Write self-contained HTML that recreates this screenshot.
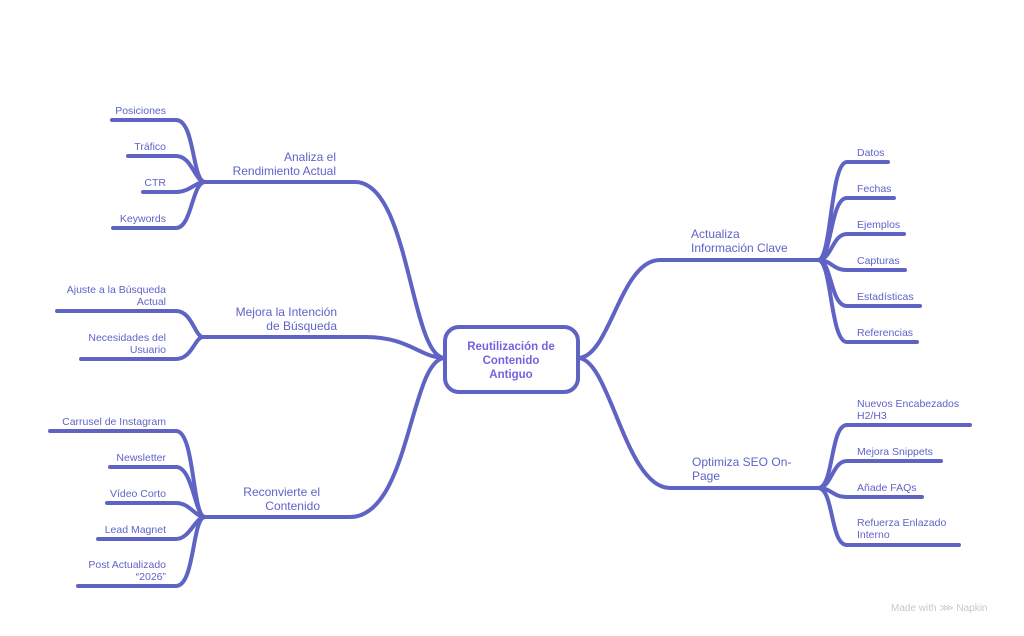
<!DOCTYPE html>
<html><head><meta charset="utf-8"><style>
html,body{margin:0;padding:0;background:#fff;}
svg{display:block;}
text{font-family:"Liberation Sans",sans-serif;font-size:10.5px;fill:#5f63c8;}
.b{font-size:12px;}
.c{font-size:11.5px;font-weight:bold;fill:#7a5fe0;}
</style></head><body>
<svg width="1024" height="636" viewBox="0 0 1024 636" xmlns="http://www.w3.org/2000/svg">
<g fill="none" stroke="#5f63c4" stroke-width="4" stroke-linecap="round">
<path d="M205,182 L355,182 C410,182 410,358 445,358"/>
<path d="M203,337 L365,337 C410,337 420,358 445,358"/>
<path d="M205,517 L350,517 C410,517 410,358 445,358"/>
<path d="M578,358 C610,358 620,260 660,260 L818,260"/>
<path d="M578,358 C610,358 625,488 670,488 L818,488"/>
<path d="M112,120 L176,120 C195,120 192,182 205,182"/>
<path d="M128,156 L176,156 C192,156 195,182 205,182"/>
<path d="M143,192 L176,192 C190,192 195,182 205,182"/>
<path d="M113,228 L176,228 C192,228 192,182 205,182"/>
<path d="M57,311 L176,311 C192,311 195,337 203,337"/>
<path d="M81,359 L176,359 C192,359 195,337 203,337"/>
<path d="M50,431 L176,431 C195,431 192,517 205,517"/>
<path d="M110,467 L176,467 C193,467 195,517 205,517"/>
<path d="M107,503 L176,503 C190,503 195,517 205,517"/>
<path d="M98,539 L176,539 C190,539 195,517 205,517"/>
<path d="M78,586 L176,586 C195,586 192,517 205,517"/>
<path d="M818,260 C832,260 830,162 847,162 L888,162"/>
<path d="M818,260 C832,260 830,198 847,198 L894,198"/>
<path d="M818,260 C832,260 832,234 847,234 L904,234"/>
<path d="M818,260 C832,260 832,270 847,270 L905,270"/>
<path d="M818,260 C832,260 830,306 847,306 L920,306"/>
<path d="M818,260 C832,260 830,342 847,342 L917,342"/>
<path d="M818,488 C834,488 830,425 847,425 L970,425"/>
<path d="M818,488 C832,488 832,461 847,461 L941,461"/>
<path d="M818,488 C832,488 832,497 847,497 L922,497"/>
<path d="M818,488 C834,488 830,545 847,545 L959,545"/>
</g>
<rect x="445" y="327" width="133" height="65" rx="14" ry="14" fill="#fff" stroke="#5f63c4" stroke-width="4"/>
<text class="c" x="511" y="350" text-anchor="middle">Reutilización de</text>
<text class="c" x="511" y="364" text-anchor="middle">Contenido</text>
<text class="c" x="511" y="378" text-anchor="middle">Antiguo</text>
<text class="b" x="336" y="161" text-anchor="end">Analiza el</text>
<text class="b" x="336" y="175" text-anchor="end">Rendimiento Actual</text>
<text class="b" x="337" y="316" text-anchor="end">Mejora la Intención</text>
<text class="b" x="337" y="330" text-anchor="end">de Búsqueda</text>
<text class="b" x="320" y="496" text-anchor="end">Reconvierte el</text>
<text class="b" x="320" y="510" text-anchor="end">Contenido</text>
<text class="b" x="691" y="238">Actualiza</text>
<text class="b" x="691" y="252">Información Clave</text>
<text class="b" x="692" y="466">Optimiza SEO On-</text>
<text class="b" x="692" y="480">Page</text>
<g text-anchor="end">
<text x="166" y="114">Posiciones</text>
<text x="166" y="150">Tráfico</text>
<text x="166" y="186">CTR</text>
<text x="166" y="222">Keywords</text>
<text x="166" y="293">Ajuste a la Búsqueda</text>
<text x="166" y="305">Actual</text>
<text x="166" y="341">Necesidades del</text>
<text x="166" y="353">Usuario</text>
<text x="166" y="425">Carrusel de Instagram</text>
<text x="166" y="461">Newsletter</text>
<text x="166" y="497">Vídeo Corto</text>
<text x="166" y="533">Lead Magnet</text>
<text x="166" y="568">Post Actualizado</text>
<text x="166" y="580">“2026”</text>
</g>
<text x="857" y="156">Datos</text>
<text x="857" y="192">Fechas</text>
<text x="857" y="228">Ejemplos</text>
<text x="857" y="264">Capturas</text>
<text x="857" y="300">Estadísticas</text>
<text x="857" y="336">Referencias</text>
<text x="857" y="407">Nuevos Encabezados</text>
<text x="857" y="419">H2/H3</text>
<text x="857" y="455">Mejora Snippets</text>
<text x="857" y="491">Añade FAQs</text>
<text x="857" y="526">Refuerza Enlazado</text>
<text x="857" y="538">Interno</text>
<text x="891" y="611" style="fill:#c8c8cc;font-size:10px">Made with ⋙ Napkin</text>
</svg>
</body></html>
